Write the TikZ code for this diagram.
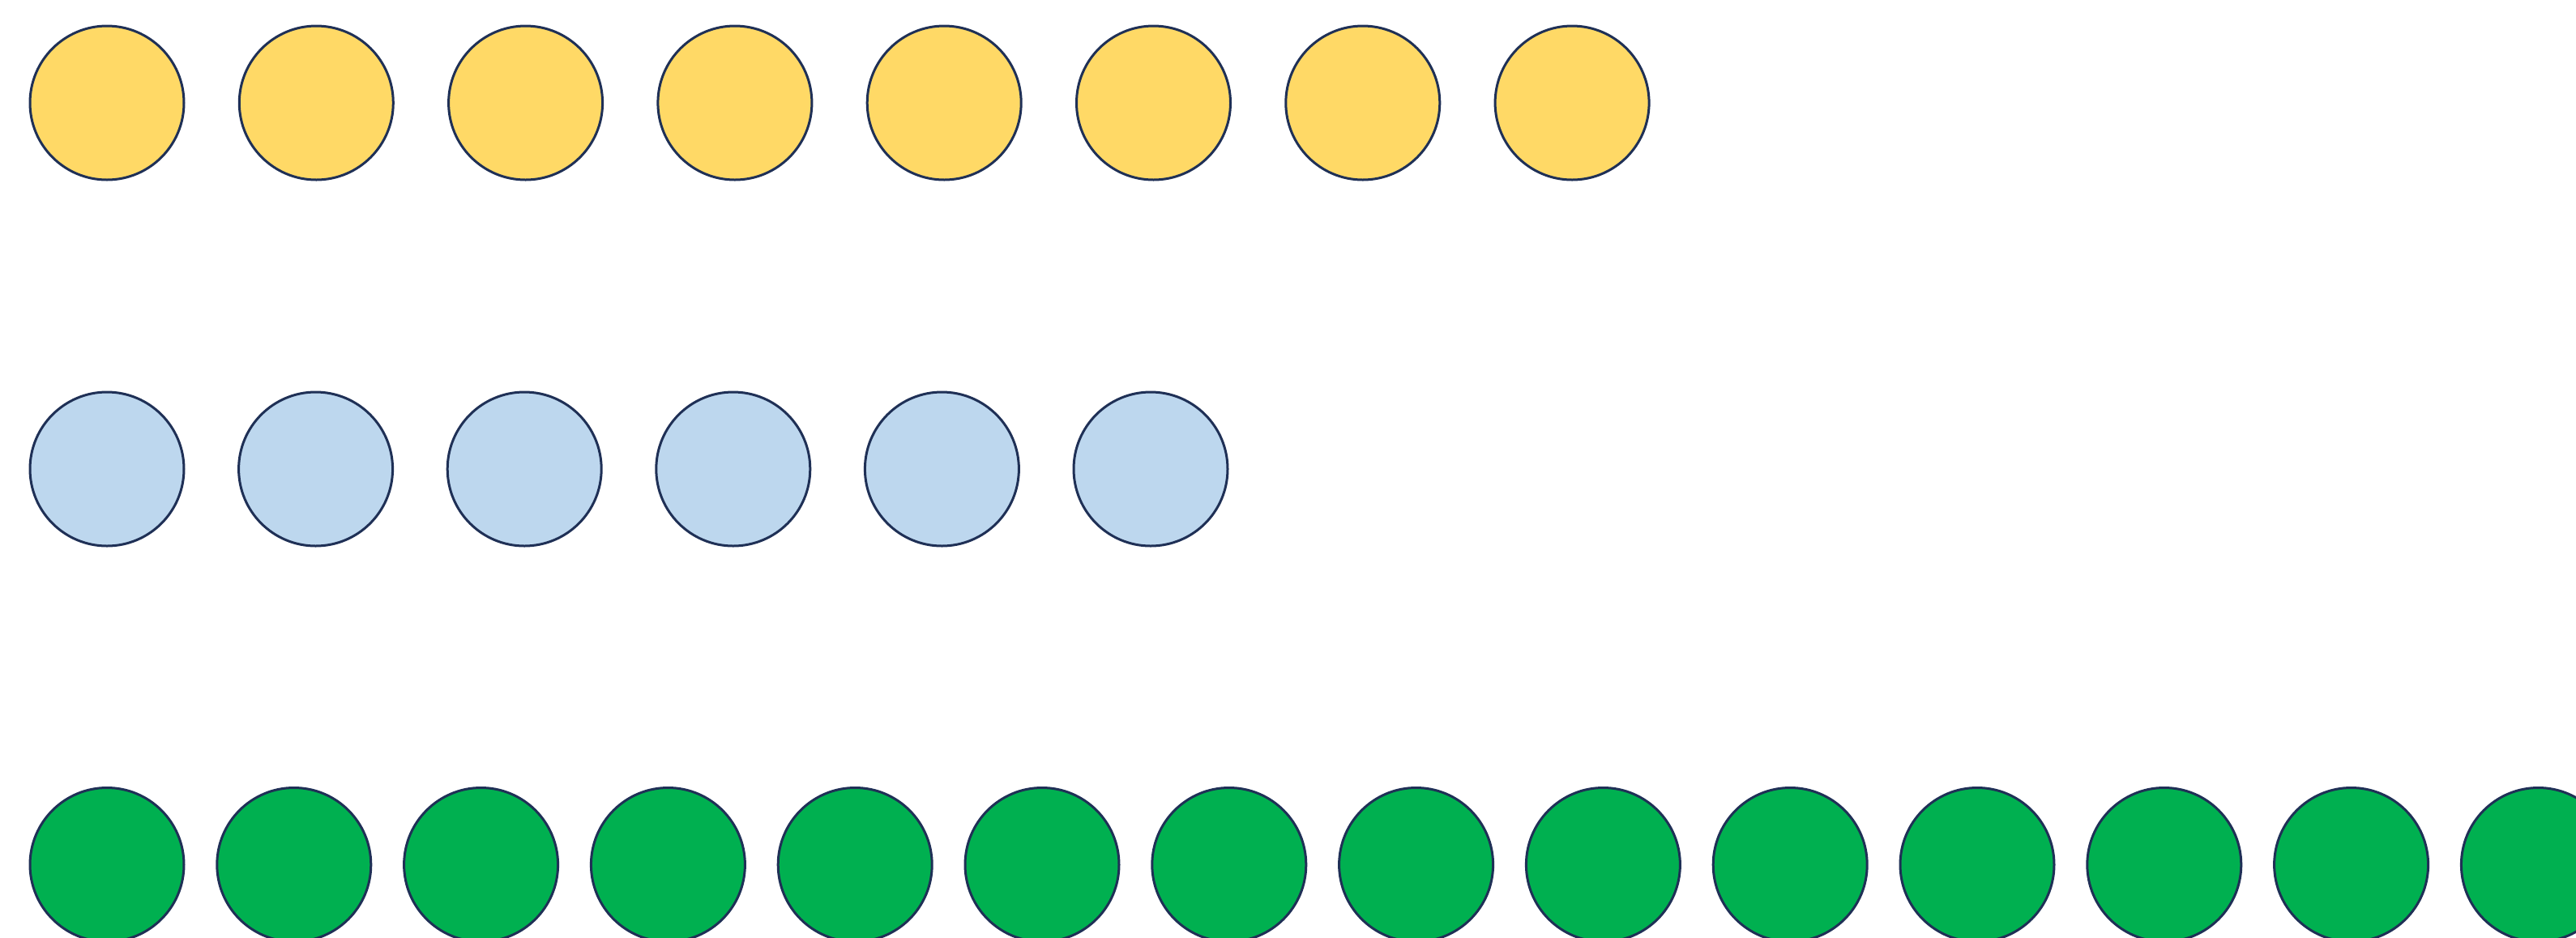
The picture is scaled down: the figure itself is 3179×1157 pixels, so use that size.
\documentclass[tikz,border=0pt]{standalone}
\definecolor{yel}{HTML}{FFD966}
\definecolor{blu}{HTML}{BDD7EE}
\definecolor{grn}{HTML}{00B050}
\definecolor{edge}{HTML}{1F3056}
\begin{document}
\begin{tikzpicture}[x=0.3pt,y=-0.3pt,
  dot/.style={circle,draw=edge,line width=0.9pt,minimum size=57pt,inner sep=0pt}]
\useasboundingbox (0,0) rectangle (3179,1157);
\clip (0,0) rectangle (3179,1157);
\foreach \i in {1,...,8}
  \node[dot,fill=yel] (y\i) at ({132+258.3*(\i-1)},127) {};
\foreach \i in {1,...,6}
  \node[dot,fill=blu] (b\i) at ({132+257.6*(\i-1)},579) {};
\foreach \i in {1,...,14}
  \node[dot,fill=grn] (g\i) at ({132+230.8*(\i-1)},1067.5) {};
\end{tikzpicture}
\end{document}
